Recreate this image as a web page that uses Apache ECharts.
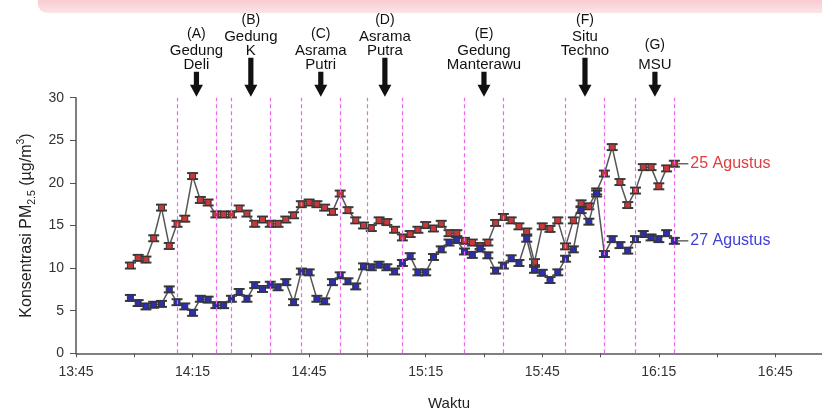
<!DOCTYPE html>
<html><head><meta charset="utf-8">
<script src="https://cdn.jsdelivr.net/npm/echarts@6/dist/echarts.min.js"></script>
<style>html,body{margin:0;padding:0;background:#fff}#c{width:822px;height:412px}</style>
</head><body><div id="c"></div>
<script>
// sampling times (every reading, hh:mm)
const times = ['13:59','14:01','14:03','14:05','14:07','14:09','14:11','14:13','14:15','14:17',
 '14:19','14:21','14:23','14:25','14:27','14:29','14:31','14:33','14:35','14:37',
 '14:39','14:41','14:43','14:45','14:47','14:49','14:51','14:53','14:55','14:57',
 '14:59','15:01','15:03','15:05','15:07','15:09','15:11','15:13','15:15','15:17',
 '15:19','15:21','15:23','15:25','15:27','15:29','15:31','15:33','15:35','15:37',
 '15:39','15:41','15:43','15:45','15:47','15:49','15:51','15:53','15:55','15:57',
 '15:59','16:01','16:03','16:05','16:07','16:09','16:11','16:13','16:15','16:17','16:19'];
// PM2.5, 25 Agustus
const red = [10.3,11.2,11.0,13.5,17.1,12.6,15.2,15.8,20.8,18.0,
 17.7,16.3,16.3,16.3,17.0,16.4,15.2,15.7,15.2,15.2,
 15.7,16.2,17.5,17.7,17.5,17.1,16.6,18.75,16.8,15.6,
 15.0,14.7,15.6,15.4,14.5,13.6,14.0,14.5,15.05,14.65,
 15.2,14.1,14.1,13.2,13.0,12.6,13.0,15.3,16.0,15.6,
 14.9,14.3,10.7,14.9,14.6,15.6,12.55,15.6,17.6,17.25,
 19.0,21.1,24.2,20.1,17.4,19.1,21.85,21.85,19.6,21.7,22.25];
// PM2.5, 27 Agustus
const blue = [6.5,5.9,5.5,5.7,5.8,7.5,6.0,5.5,4.75,6.4,
 6.3,5.65,5.65,6.4,7.2,6.4,8.0,7.55,8.05,7.75,
 8.35,6.0,9.6,9.5,6.4,6.1,8.35,9.15,8.45,7.85,
 10.2,10.1,10.4,10.1,9.6,10.6,11.4,9.5,9.5,11.3,
 12.2,13.0,13.3,11.95,11.55,12.3,11.5,9.7,10.3,11.15,
 10.6,13.45,9.8,9.45,8.6,9.5,11.1,12.2,16.8,15.45,
 18.75,11.65,13.4,12.7,12.05,13.4,14.0,13.6,13.4,14.1,13.2];
const ERR = 0.35; // error half-width read from caps
// start/end of each site visit (dashed lines)
const siteLines = ['14:11','14:21','14:25','14:35','14:43','14:53','15:00','15:09',
 '15:25','15:35','15:51','16:01','16:09','16:19'];
const arrowTimes = ['14:16','14:30','14:48','15:04.5','15:30','15:56','16:14'];
const arrowLabels = [['(A)','Gedung','Deli'],['(B)','Gedung','K'],['(C)','Asrama','Putri'],
 ['(D)','Asrama','Putra'],['(E)','Gedung','Manterawu'],['(F)','Situ','Techno'],['(G)','MSU']];
const arrowLong = [false,true,false,true,false,true,false];
const xTickLabels = ['13:45','14:15','14:45','15:15','15:45','16:15','16:45'];

function toMin(s){const p=s.split(':');return (+p[0])*60+parseFloat(p[1]);}
function fmt(v){const h=Math.floor(v/60),m=Math.round(v-h*60);return h+':'+(m<10?'0':'')+m;}
const tickSet = new Set(xTickLabels.map(toMin));

const redData = times.map((t,i)=>[toMin(t),red[i]]);
const blueData = times.map((t,i)=>[toMin(t),blue[i]]);
const FF = 'Liberation Sans, Arial, sans-serif';

function errItem(params, api){
  const x=api.value(0), y=api.value(1);
  const a=api.coord([x,y+ERR]), b=api.coord([x,y-ERR]);
  const hw=5.5, st={stroke:'#3a3a3a',lineWidth:2};
  return {type:'group',children:[
    {type:'line',shape:{x1:a[0],y1:a[1],x2:b[0],y2:b[1]},style:{stroke:'#3a3a3a',lineWidth:1.2}},
    {type:'line',shape:{x1:a[0]-hw,y1:a[1],x2:a[0]+hw,y2:a[1]},style:st},
    {type:'line',shape:{x1:b[0]-hw,y1:b[1],x2:b[0]+hw,y2:b[1]},style:st}
  ]};
}
function arrowItem(params, api){
  const i=api.value(2);
  const p=api.coord([api.value(0),30]);
  const x=p[0], tip=p[1]-1;
  const shaftTop = p[1]-(arrowLong[i]?40:26);
  const headH=12, sw=2.6, hw=6.5;
  const ch=[
    {type:'polygon',shape:{points:[[x-sw,shaftTop],[x+sw,shaftTop],[x+sw,tip-headH],[x+hw,tip-headH],
      [x,tip],[x-hw,tip-headH],[x-sw,tip-headH]]},style:{fill:'#111'}}
  ];
  const lines=arrowLabels[i];
  let y=shaftTop-7;
  for(let k=lines.length-1;k>=1;k--){
    ch.push({type:'text',style:{text:lines[k],x:x,y:y,align:'center',verticalAlign:'middle',
      fontSize:15,fontFamily:FF,fill:'#111'}});
    if(k>1) y-=13.5;
  }
  y -= (lines.length===2?20:17.5);
  ch.push({type:'text',style:{text:lines[0],x:x,y:y,align:'center',verticalAlign:'middle',
    fontSize:14,fontFamily:FF,fill:'#111'}});
  return {type:'group',children:ch};
}

const chart = echarts.init(document.getElementById('c'));
chart.setOption({
  animation:false,
  backgroundColor:'#fff',
  graphic:[{type:'rect',left:38,top:-10,z:-1,shape:{width:800,height:23,r:9},
    style:{fill:new echarts.graphic.LinearGradient(0,0,0,1,[{offset:0,color:'#f5b8be'},{offset:1,color:'#fde4e7'}])}}],
  grid:{left:76,right:0,top:97.7,bottom:58.7,containLabel:false,outerBoundsMode:'none'},
  xAxis:{type:'value',min:825,max:1017,interval:15,
    axisLine:{onZero:true,lineStyle:{color:'#555',width:1.5}},
    axisTick:{show:true,length:4,lineStyle:{color:'#555'}},
    splitLine:{show:false},
    axisLabel:{fontSize:14,color:'#333',margin:12,fontFamily:FF,
      formatter:v=>tickSet.has(v)?fmt(v):''},
    name:'Waktu',nameLocation:'middle',nameGap:43,
    nameTextStyle:{fontSize:15,color:'#222',fontFamily:FF}},
  yAxis:{type:'value',min:0,max:30,interval:5,
    axisLine:{show:true,lineStyle:{color:'#555',width:1.5}},
    axisTick:{show:true,length:6,lineStyle:{color:'#555'}},
    splitLine:{show:false},
    axisLabel:{fontSize:14,color:'#333',margin:12,fontFamily:FF},
    name:'{t|Konsentrasi PM}{s|2.5}{t| (µg/m}{p|3}{t|)}',nameLocation:'middle',nameRotate:90,nameGap:38,
    nameTextStyle:{rich:{
      t:{fontSize:16,color:'#222',fontFamily:FF,lineHeight:22,verticalAlign:'middle'},
      s:{fontSize:10.5,color:'#222',fontFamily:FF,lineHeight:22,verticalAlign:'bottom'},
      p:{fontSize:10.5,color:'#222',fontFamily:FF,lineHeight:22,verticalAlign:'top'}
    }}},
  series:[
    {type:'custom',name:'sites',renderItem:arrowItem,clip:false,silent:true,z:5,
      data:arrowTimes.map((t,i)=>[toMin(t),30,i]),
      markLine:{silent:true,symbol:['none','none'],label:{show:false},
        lineStyle:{color:'#ee66ee',type:[4,3],width:1.2},
        data:siteLines.map(t=>({xAxis:toMin(t)}))}},
    {type:'custom',renderItem:errItem,data:redData,z:2,silent:true},
    {type:'line',name:'25 Agustus',data:redData,z:3,symbol:'rect',symbolSize:6,showSymbol:true,
      lineStyle:{color:'#555',width:1.5},itemStyle:{color:'#c8383a',borderColor:'#333',borderWidth:1},
      endLabel:{show:true,distance:3,formatter:'{l|}{t|25 Agustus}',
        rich:{l:{width:11,height:1.5,backgroundColor:'#666',verticalAlign:'middle'},
          t:{color:'#e23c3c',fontSize:16,padding:[0,0,0,2],fontFamily:FF,verticalAlign:'middle'}}}},
    {type:'custom',renderItem:errItem,data:blueData,z:4,silent:true},
    {type:'line',name:'27 Agustus',data:blueData,z:4,symbol:'rect',symbolSize:6,showSymbol:true,
      lineStyle:{color:'#555',width:1.5},itemStyle:{color:'#2d2db0',borderColor:'#333',borderWidth:1},
      endLabel:{show:true,distance:3,formatter:'{l|}{t|27 Agustus}',
        rich:{l:{width:11,height:1.5,backgroundColor:'#666',verticalAlign:'middle'},
          t:{color:'#4040d8',fontSize:16,padding:[0,0,0,2],fontFamily:FF,verticalAlign:'middle'}}}}
  ]
});
</script></body></html>
